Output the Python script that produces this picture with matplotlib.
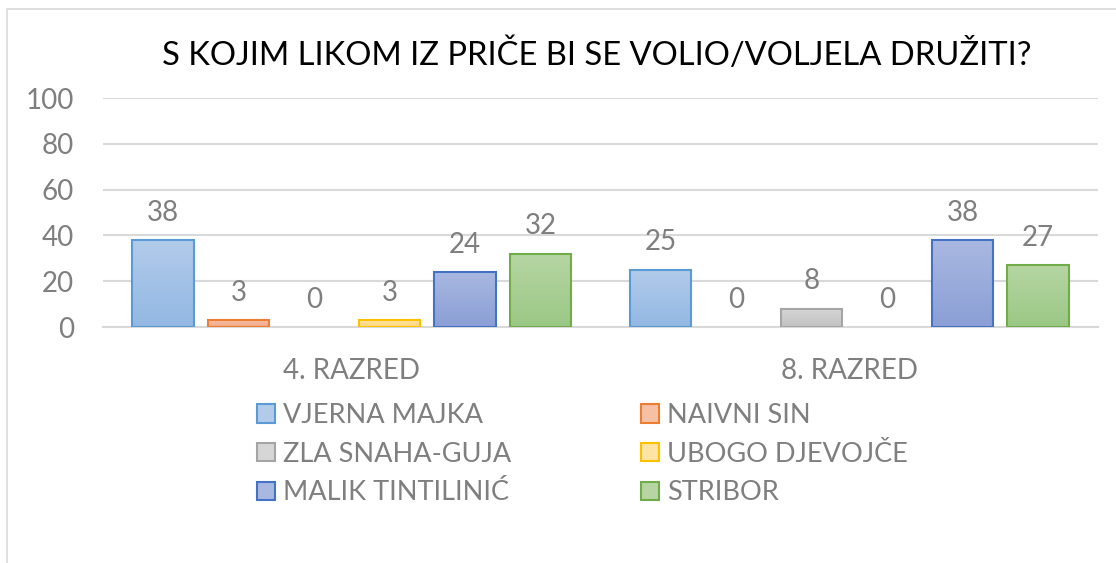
import numpy as np
import matplotlib
matplotlib.use("Agg")
import matplotlib.pyplot as plt
from matplotlib.colors import LinearSegmentedColormap
from matplotlib.patches import Rectangle

# data
groups = ["4. RAZRED", "8. RAZRED"]
characters = ["VJERNA MAJKA", "NAIVNI SIN", "ZLA SNAHA-GUJA",
              "UBOGO DJEVOJČE", "MALIK TINTILINIĆ", "STRIBOR"]
vjerna_majka = [38, 25]
naivni_sin = [3, 0]
zla_snaha = [0, 8]
ubogo_djevojce = [3, 0]
malik = [24, 38]
stribor = [32, 27]
series = [vjerna_majka, naivni_sin, zla_snaha, ubogo_djevojce, malik, stribor]
yticks = [0, 20, 40, 60, 80, 100]

# edge, gradient top, gradient bottom
edges = ["#5b9bd5", "#ed7d31", "#a5a5a5", "#ffc000", "#4472c4", "#70ad47"]
tops = ["#b2cbea", "#f6c0a5", "#d6d6d6", "#ffe4a3", "#a9b8e1", "#b6d5a3"]
bottoms = ["#93b8e3", "#f2a785", "#c2c2c2", "#ffd77c", "#8b9fd6", "#9bc886"]

plt.rcParams['font.family'] = ['Lato', 'DejaVu Sans']
grey = "#7f7f7f"

fig = plt.figure(figsize=(11.16, 5.63), dpi=100)
ax = fig.add_axes([103/1116, 1 - 327/563, (1098 - 103)/1116, (327 - 98)/563])

# chart border (only left and top are visible in the picture)
fig.patches.append(Rectangle((7/1116, -0.1), 1.2, 1 - 9/563 + 0.1,
                             transform=fig.transFigure, fill=False,
                             edgecolor="#d9d9d9", linewidth=1.2))

x = np.arange(len(groups))
step = 0.1517
width = 0.123
handles = []
for i, vals in enumerate(series):
    pos = x + (i - 2.5) * step
    cmap = LinearSegmentedColormap.from_list("g%d" % i, [bottoms[i], tops[i]])
    bars = ax.bar(pos, vals, width, facecolor=bottoms[i], linewidth=0,
                  zorder=3, label=characters[i])
    for b in bars:
        if b.get_height() <= 0:
            continue
        im = ax.imshow(np.linspace(0, 1, 50).reshape(-1, 1), cmap=cmap,
                       origin="lower", aspect="auto", zorder=3.5,
                       extent=[b.get_x(), b.get_x() + b.get_width(), 0, b.get_height()])
        im.set_clip_path(b)
        ax.add_patch(Rectangle((b.get_x(), 0), b.get_width(), b.get_height(),
                               fill=False, edgecolor=edges[i], linewidth=1.5, zorder=4))
    for p, v in zip(pos, vals):
        ax.annotate(str(v), (p, v), xytext=(0, 14), textcoords="offset points",
                    ha="center", va="baseline", fontsize=20, color=grey)
    handles.append(Rectangle((0, 0), 1, 1, facecolor=tops[i], edgecolor=edges[i], linewidth=1.5))

ax.set_xlim(-0.5, 1.5)
ax.set_ylim(0, 100)
ax.set_yticks(yticks)
ax.set_xticks(x)
ax.set_xticklabels(groups)
ax.yaxis.grid(True, color="#d9d9d9", linewidth=1.5, zorder=0)
ax.set_axisbelow(True)
for s in ["top", "right", "left"]:
    ax.spines[s].set_visible(False)
ax.spines["bottom"].set_color("#d9d9d9")
ax.spines["bottom"].set_linewidth(1.5)
ax.tick_params(axis="both", length=0, labelsize=20, labelcolor=grey)
ax.tick_params(axis="y", pad=21)
ax.tick_params(axis="x", pad=22)

fig.text(597/1116, 1 - 65/563, "S KOJIM LIKOM IZ PRIČE BI SE VOLIO/VOLJELA DRUŽITI?",
         ha="center", va="baseline", fontsize=23.6, color="black")

order = [0, 2, 4, 1, 3, 5]
fig.legend([handles[k] for k in order], [characters[k] for k in order],
           ncol=2, loc="upper left", bbox_to_anchor=(257/1116, 1 - 403/563),
           frameon=False, fontsize=19.5, labelcolor=grey, borderpad=0,
           handlelength=0.65, handleheight=0.65, handletextpad=0.3,
           columnspacing=4.8, labelspacing=0.5, borderaxespad=0)

fig.savefig("out.png", dpi=100)
